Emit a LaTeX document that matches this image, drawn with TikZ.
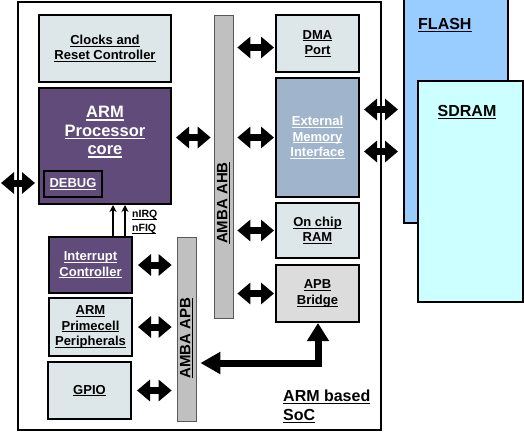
\documentclass[tikz,border=0pt]{standalone}
\usepackage{fontspec}
\setmainfont{Liberation Sans}
\usetikzlibrary{arrows.meta}
\definecolor{cellgrey}{HTML}{DDE7E9}
\definecolor{armpurple}{HTML}{604B7B}
\definecolor{emiblue}{HTML}{A0B4CC}
\definecolor{bridgegrey}{HTML}{DCDCDC}
\definecolor{busgrey}{HTML}{C0C0C0}
\definecolor{flashblue}{HTML}{99CCFF}
\definecolor{sdramcyan}{HTML}{CCFFFF}
\newcommand{\lbl}[1]{\leavevmode\sbox0{#1}\rlap{\rule[-0.16em]{\wd0}{0.07em}}\box0}
\newcommand{\fsz}[1]{\bfseries\fontsize{#1}{#1}\selectfont}
\begin{document}
\begin{tikzpicture}[x=1pt, y=-1pt,
    block/.style={draw, line width=2pt, minimum width=83pt, inner sep=0pt, align=center,
        font=\bfseries\fontsize{13}{15.5}\selectfont},
    bus/.style={draw=gray!70!black, line width=0.7pt, fill=busgrey, minimum width=19pt, inner sep=0pt},
    buslbl/.style={rotate=90, inner sep=0pt, font=\fsz{15}},
    fat/.style={line width=7pt, {Triangle[length=13pt,width=21pt]}-{Triangle[length=13pt,width=21pt]}},
    busarrow/.style={line width=7pt, {Triangle[length=18pt,width=21pt]}-{Triangle[length=20pt,width=21pt]}},
    irq/.style={line width=1.5pt, -{Stealth[length=7pt,width=7pt]}},
    memory/.style={draw, line width=2pt, inner sep=0pt}]
\useasboundingbox (0,0) rectangle (524,437);

% external memories
\node[memory, fill=flashblue, minimum width=104pt, minimum height=230pt] (flash) at (456,108) {};
\node[anchor=west, inner sep=0pt, font=\fsz{16}] (flashtxt) at (418,25) {\lbl{FLASH}};
\node[memory, fill=sdramcyan, minimum width=105pt, minimum height=221pt] (sdram) at (470,191.5) {};
\node[inner sep=0pt, font=\fsz{16}] (sdramtxt) at (467,112) {\lbl{SDRAM}};

% SoC frame
\draw[line width=2.5pt] (18,2) rectangle (381,430);
\node[anchor=north west, inner sep=0pt, align=left, font=\bfseries\fontsize{16}{19}\selectfont]
    (soc) at (283,390) {\lbl{ARM based}\\\lbl{SoC}};

% left column
\node[block, fill=cellgrey, minimum width=132pt, minimum height=67pt] (clocks) at (105,48.5)
    {\lbl{Clocks and}\\\lbl{Reset Controller}};
\node[block, fill=armpurple, minimum width=132pt, minimum height=116pt] (arm) at (105,146) {};
\node[text=white, align=center, font=\bfseries\fontsize{16.5}{18.5}\selectfont] (armtxt) at (105,132)
    {\lbl{ARM}\\\lbl{Processor}\\\lbl{core}};
\node[block, fill=armpurple, text=white, minimum width=58pt, minimum height=26pt] (debug) at (73,184)
    {\lbl{DEBUG}};
\node[block, fill=armpurple, text=white, minimum height=56pt] (intc) at (90.5,265)
    {\lbl{Interrupt}\\\lbl{Controller}};
\node[block, fill=cellgrey, minimum height=58pt] (prime) at (90.5,327)
    {\lbl{ARM}\\\lbl{Primecell}\\\lbl{Peripherals}};
\node[block, fill=cellgrey, minimum height=57pt] (gpio) at (89.5,390.5) {\lbl{GPIO}};

% buses
\node[bus, minimum height=303pt] (ahb) at (223.5,166.5) {};
\node[buslbl] (ahbtxt) at (223.5,203) {\lbl{AMBA AHB}};
\node[bus, minimum height=184pt] (apb) at (186.5,329) {};
\node[buslbl] (apbtxt) at (186.5,338) {\lbl{AMBA APB}};

% right column
\node[block, fill=cellgrey, minimum height=57pt] (dma) at (317.5,43.5) {\lbl{DMA}\\\lbl{Port}};
\node[block, fill=emiblue, text=white, minimum height=119pt] (emi) at (317.5,137.5)
    {\lbl{External}\\\lbl{Memory}\\\lbl{Interface}};
\node[block, fill=cellgrey, minimum height=55pt] (ram) at (317.5,230.5) {\lbl{On chip}\\\lbl{RAM}};
\node[block, fill=bridgegrey, minimum height=57pt] (apbb) at (317.5,293.5) {\lbl{APB}\\\lbl{Bridge}};

% bus connections
\draw[fat, shorten <=4pt, shorten >=3pt] (arm.east |- emi.west) -- (ahb.west |- emi.west);
\draw[fat, shorten <=4pt, shorten >=1pt] ([yshift=-4pt]ahb.east |- dma.west) -- ([yshift=-4pt]dma.west);
\foreach \blk in {emi, ram, apbb}
    \draw[fat, shorten <=4pt, shorten >=1pt] (ahb.east |- \blk.west) -- (\blk.west);
\foreach \blk in {intc, prime, gpio}
    \draw[fat, shorten <=5pt, shorten >=5pt] (\blk.east) -- (apb.west |- \blk.east);
\draw[fat, shorten <=4pt, shorten >=5pt] ([yshift=28pt]emi.east) -- ([yshift=28pt]emi.east -| flash.west);
\draw[fat, shorten <=4pt, shorten >=5pt] ([yshift=-14pt]emi.east) -- ([yshift=-14pt]emi.east -| flash.west);
\coordinate (dbgpin) at (1,183);
\draw[fat, shorten >=3pt] (dbgpin) -- (dbgpin -| arm.west);
\coordinate (bend) at (318,363);
\draw[busarrow, shorten >=4pt] (apbb.south -| bend) -- (bend) -- (bend -| apb.east);

% interrupts
\draw[irq] ([xshift=22.5pt]intc.north) -- ([xshift=22.5pt]intc.north |- arm.south);
\draw[irq] ([xshift=34.5pt]intc.north) -- ([xshift=34.5pt]intc.north |- arm.south);
\node[anchor=west, inner sep=0pt, font=\fsz{10.5}] (nirq) at (132,215) {\lbl{nIRQ}};
\node[anchor=west, inner sep=0pt, font=\fsz{10.5}] (nfiq) at (132,229) {\lbl{nFIQ}};
\end{tikzpicture}
\end{document}
